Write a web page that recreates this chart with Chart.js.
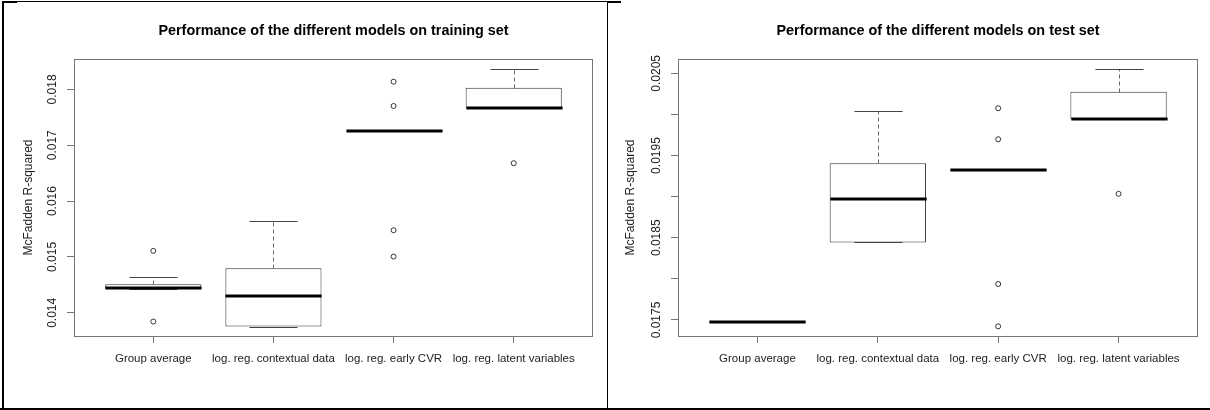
<!DOCTYPE html>
<html>
<head>
<meta charset="utf-8">
<script src="https://cdn.jsdelivr.net/npm/chart.js@4.4.0/dist/chart.umd.min.js"></script>
<style>
  html, body { margin: 0; padding: 0; background: #fff; }
  #page { position: relative; width: 1210px; height: 410px; overflow: hidden; background: #fff; }
  canvas { position: absolute; top: 0; }
  #trainChart { left: 0; }
  #testChart { left: 607px; }
  .rule { position: absolute; background: #000; }
</style>
</head>
<body>
<div id="page">
  <canvas id="trainChart" width="607" height="410"></canvas>
  <canvas id="testChart" width="603" height="410"></canvas>

  <!-- outer frame lines of the screenshot -->
  <div class="rule" style="left:2px;top:1px;width:2px;height:408px"></div>
  <div class="rule" style="left:2px;top:1px;width:605px;height:1px"></div>
  <div class="rule" style="left:2px;top:1px;width:15px;height:2px"></div>
  <div class="rule" style="left:607px;top:1px;width:1px;height:408px"></div>
  <div class="rule" style="left:607px;top:1px;width:14px;height:2px"></div>
  <div class="rule" style="left:0;top:408px;width:1210px;height:2px"></div>
</div>

<script>
// ---------------------------------------------------------------
// data
// ---------------------------------------------------------------
const categories = ["Group average", "log. reg. contextual data", "log. reg. early CVR", "log. reg. latent variables"];

// training set
const trainLower    = [0.01442, 0.013755, 0.017256, 0.01766];
const trainQ1       = [0.01442, 0.013755, 0.017256, 0.01766];
const trainMedian   = [0.01444, 0.014309, 0.017256, 0.017662];
const trainQ3       = [0.01451, 0.0148,   0.017256, 0.01803];
const trainUpper    = [0.014639, 0.015646, 0.017256, 0.01836];
const trainOutliers = [[0.015109, 0.013844], [], [0.018138, 0.017703, 0.015479, 0.015007], [0.016678]];
const trainRange    = [0.013585, 0.018544];
const trainTicks    = [0.014, 0.015, 0.016, 0.017, 0.018];
const trainTickLabels = ["0.014", "0.015", "0.016", "0.017", "0.018"];

// test set
const testLower    = [0.017476, 0.018443, 0.019326, 0.019941];
const testQ1       = [0.017476, 0.018443, 0.019326, 0.019941];
const testMedian   = [0.017476, 0.018977, 0.019326, 0.019941];
const testQ3       = [0.017476, 0.019407, 0.019326, 0.020277];
const testUpper    = [0.017476, 0.020046, 0.019326, 0.020549];
const testOutliers = [[], [], [0.020075, 0.019698, 0.017937, 0.017422], [0.019034]];
const testRange    = [0.017305, 0.020674];
const testTicks    = [0.0175, 0.018, 0.0185, 0.019, 0.0195, 0.02, 0.0205];
const testTickLabels = ["0.0175", "", "0.0185", "", "0.0195", "", "0.0205"];

Chart.defaults.font.family = '"Liberation Sans", Arial, Helvetica, sans-serif';

// ---------------------------------------------------------------
// whiskers, staples, medians and plot frame (R boxplot look)
// ---------------------------------------------------------------
function boxExtras(s) {
  return {
    id: "boxExtras",
    afterDatasetsDraw(chart) {
      const { ctx, chartArea: a, scales: { x, y } } = chart;
      const seg = (x1, y1, x2, y2) => { ctx.beginPath(); ctx.moveTo(x1, y1); ctx.lineTo(x2, y2); ctx.stroke(); };
      const py = (v) => Math.round(y.getPixelForValue(v)) + 0.5;
      ctx.save();
      s.median.forEach((m, i) => {
        const cx = Math.round(x.getPixelForValue(i + 1)) + 0.5;
        const half = x.getPixelForValue(i + 1.4) - x.getPixelForValue(i + 1);
        const cap = half / 2;
        // dashed whiskers
        ctx.lineWidth = 1;
        ctx.strokeStyle = "#666";
        ctx.setLineDash([4, 3]);
        if (s.upper[i] > s.q3[i]) seg(cx, py(s.q3[i]), cx, py(s.upper[i]));
        if (s.lower[i] < s.q1[i]) seg(cx, py(s.q1[i]), cx, py(s.lower[i]));
        ctx.setLineDash([]);
        // staples
        ctx.strokeStyle = "#444";
        seg(cx - cap, py(s.upper[i]), cx + cap, py(s.upper[i]));
        seg(cx - cap, py(s.lower[i]), cx + cap, py(s.lower[i]));
        // median
        ctx.lineWidth = 3;
        ctx.strokeStyle = "#000";
        const ym = Math.round(y.getPixelForValue(m));
        seg(cx - half, ym, cx + half, ym);
      });
      // frame
      ctx.lineWidth = 1;
      ctx.strokeStyle = "#777";
      ctx.strokeRect(Math.round(a.left) + 0.5, Math.round(a.top) + 0.5,
                     Math.round(a.right - a.left) - 1, Math.round(a.bottom - a.top));
      ctx.restore();
    }
  };
}

function buildChart(canvasId, o) {
  const points = [];
  o.outliers.forEach((list, i) => list.forEach((v) => points.push({ x: i + 1, y: v })));

  return new Chart(document.getElementById(canvasId), {
    type: "bar",
    data: {
      datasets: [
        {
          type: "bar",
          data: o.q1.map((q, i) => ({ x: i + 1, y: [q, o.q3[i]] })),
          backgroundColor: "#fff",
          borderColor: "#333",
          borderWidth: 1,
          borderSkipped: false,
          categoryPercentage: 1,
          barPercentage: 0.8
        },
        {
          type: "line",
          data: points,
          showLine: false,
          pointStyle: "circle",
          pointRadius: 2.5,
          pointBorderWidth: 1,
          pointBorderColor: "#333",
          pointBackgroundColor: "#fff"
        }
      ]
    },
    options: {
      responsive: false,
      animation: false,
      devicePixelRatio: 1,
      layout: { padding: { left: 0, right: o.padRight, top: 0, bottom: 0 } },
      plugins: {
        legend: { display: false },
        tooltip: { enabled: false },
        title: {
          display: true,
          text: o.title,
          fullSize: false,
          color: "#000",
          font: { size: 14.4, weight: "bold" },
          padding: { top: 22, bottom: 19.72 }
        }
      },
      scales: {
        x: {
          type: "linear",
          min: 0.34,
          max: 4.66,
          offset: false,
          afterBuildTicks: (sc) => { sc.ticks = categories.map((c, i) => ({ value: i + 1 })); },
          afterFit: (sc) => { sc.height = 74; },
          border: { display: false },
          grid: { offset: false, drawOnChartArea: false, drawTicks: true, tickLength: 7, color: "#777" },
          ticks: {
            autoSkip: false,
            maxRotation: 0,
            minRotation: 0,
            padding: 9,
            color: "#222",
            font: { size: 11.5 },
            callback: (v) => categories[v - 1]
          }
        },
        y: {
          type: "linear",
          min: o.range[0],
          max: o.range[1],
          afterBuildTicks: (sc) => { sc.ticks = o.ticks.map((v) => ({ value: v })); },
          afterFit: (sc) => { sc.width = o.axisWidth; },
          border: { display: false },
          grid: { offset: false, drawOnChartArea: false, drawTicks: true, tickLength: 7, color: "#777" },
          title: {
            display: true,
            text: "McFadden R-squared",
            color: "#222",
            font: { size: 12 },
            padding: { top: o.titlePad, bottom: 0 }
          },
          ticks: {
            minRotation: 90,
            maxRotation: 90,
            crossAlign: "center",
            padding: o.tickPad,
            color: "#222",
            font: { size: 12 },
            callback: (v, i) => o.tickLabels[i]
          }
        }
      }
    },
    plugins: [boxExtras({ lower: o.lower, q1: o.q1, median: o.median, q3: o.q3, upper: o.upper })]
  });
}

buildChart("trainChart", {
  title: "Performance of the different models on training set",
  lower: trainLower, q1: trainQ1, median: trainMedian, q3: trainQ3, upper: trainUpper,
  outliers: trainOutliers, range: trainRange, ticks: trainTicks, tickLabels: trainTickLabels,
  axisWidth: 74, padRight: 14, titlePad: 21, tickPad: -1
});

buildChart("testChart", {
  title: "Performance of the different models on test set",
  lower: testLower, q1: testQ1, median: testMedian, q3: testQ3, upper: testUpper,
  outliers: testOutliers, range: testRange, ticks: testTicks, tickLabels: testTickLabels,
  axisWidth: 71, padRight: 12, titlePad: 16, tickPad: -4
});
</script>
</body>
</html>
